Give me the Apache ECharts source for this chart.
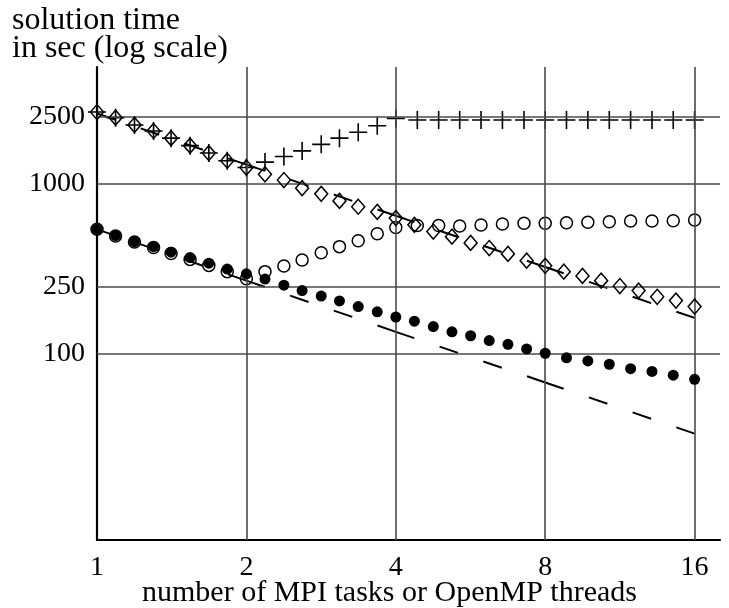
<!DOCTYPE html>
<html>
<head>
<meta charset="utf-8">
<script src="https://cdn.jsdelivr.net/npm/echarts@6/dist/echarts.min.js"></script>
<style>
  html, body { margin: 0; padding: 0; background: #fff; }
  #chart { width: 729px; height: 608px; }
</style>
</head>
<body>
<div id="chart"></div>
<script>
// Process counts (1 .. 16) at which the runs were timed
const xFine = [1, 1.09, 1.19, 1.3, 1.41, 1.54, 1.68, 1.83, 2, 2.18, 2.38, 2.59, 2.83, 3.08, 3.36, 3.67,
               4, 4.36, 4.76, 5.19, 5.66, 6.17, 6.73, 7.34, 8, 8.72, 9.51, 10.37, 11.31, 12.34, 13.45, 14.67, 16];
const xCoarse = [4.42, 4.88, 5.38, 5.94, 6.56, 7.25, 8, 8.83, 9.75, 10.77, 11.89, 13.13, 14.49, 16];

// Solution times in seconds
const diamondTime = [2650, 2455, 2225, 2050, 1860, 1680, 1520, 1370, 1250, 1140, 1055, 945, 875, 795, 735, 685,
                     630, 575, 525, 490, 450, 420, 388, 354, 330, 305, 288, 270, 251, 236, 217, 206, 190];
const crossTime = [2650, 2455, 2225, 2050, 1860, 1680, 1520, 1370, 1250, 1345, 1450, 1565, 1710, 1860, 2015, 2200, 2430,
                   2380, 2380, 2380, 2380, 2380, 2380, 2380, 2380, 2380, 2380, 2380, 2380, 2380, 2380];
const openTime = [541, 494, 456, 423, 390, 360, 332, 305, 277, 305, 329, 357, 394, 428, 464, 510, 555,
                  570, 570, 566, 574, 582, 587, 587, 592, 595, 600, 606, 606, 608, 614];
const filledTime = [541, 497, 458, 428, 397, 369, 342, 316, 296, 276, 254, 236, 219, 205, 190, 177, 165,
                    156, 145, 135, 128, 120, 114, 107, 101, 95, 91, 87, 82, 79, 75, 71];

// Ideal (linear) speed-up references
const idealX = [1, 2, 4, 8, 16];
const idealA = [2600, 1300, 650, 325, 163];
const idealB = [541, 270, 135, 68, 34];

// Axis ticks
const xTicks = [1, 2, 4, 8, 16];
const yTicks = [100, 250, 1000, 2500];

const FONT = '"Liberation Serif", "Times New Roman", serif';

const crossX = xFine.slice(0, 17).concat(xCoarse);
const filledX = xFine.slice(0, 25).concat(xCoarse.slice(7));
const pairs = (xs, ys) => ys.map((y, i) => [xs[i], y]);

// each octave of the ideal line is dashed on its own
function idealSegments(ys) {
  const out = [];
  for (let i = 0; i < idealX.length - 1; i++) {
    out.push({
      type: 'line',
      data: [[idealX[i], ys[i]], [idealX[i + 1], ys[i + 1]]],
      symbol: 'none',
      silent: true,
      z: 3,
      lineStyle: { color: '#000', width: 2, type: [19.5, 26.7], cap: 'butt' }
    });
  }
  return out;
}

const hollow = { color: 'transparent', borderColor: '#000', borderWidth: 1.5, opacity: 1 };

const chart = echarts.init(document.getElementById('chart'), null, { renderer: 'canvas' });
chart.setOption({
  animation: false,
  backgroundColor: '#fff',
  grid: { left: 97, right: 9, top: 67, bottom: 68 },
  xAxis: {
    type: 'log', logBase: 2, min: 1, max: 18,
    axisLine: { lineStyle: { color: '#000', width: 2.2 } },
    axisTick: { show: false },
    splitLine: { show: false },
    axisLabel: {
      customValues: xTicks,
      color: '#000', fontFamily: FONT, fontSize: 28, margin: 14,
      formatter: v => String(Math.round(v))
    }
  },
  yAxis: {
    type: 'log', logBase: 10, min: 8.05, max: 4876,
    axisLine: { lineStyle: { color: '#000', width: 2.2 } },
    axisTick: { show: false },
    splitLine: { show: false },
    axisLabel: {
      customValues: yTicks,
      color: '#000', fontFamily: FONT, fontSize: 28, margin: 12,
      formatter: v => String(Math.round(v))
    }
  },
  graphic: [
    {
      type: 'text', left: 12, top: 5,
      style: { text: 'solution time\nin sec (log scale)', font: '32px ' + FONT, fill: '#000', lineHeight: 28 }
    },
    {
      type: 'text', left: 142, top: 578,
      style: { text: 'number of MPI tasks or OpenMP threads', font: '30px ' + FONT, fill: '#000' }
    }
  ],
  series: [
    {
      type: 'line', data: [], silent: true, z: 1,
      markLine: {
        silent: true, symbol: 'none', label: { show: false },
        lineStyle: { color: '#4a4a4a', width: 1.6, type: 'solid' },
        data: yTicks.map(v => ({ yAxis: v })).concat(xTicks.slice(1).map(v => ({ xAxis: v })))
      }
    },
    ...idealSegments(idealA),
    ...idealSegments(idealB),
    {
      type: 'scatter', data: pairs(crossX, crossTime), z: 4,
      symbol: 'path://M0,-9L0,9M-9,0L9,0', symbolSize: 18,
      itemStyle: { color: 'transparent', borderColor: '#000', borderWidth: 1.6, opacity: 1 }
    },
    {
      type: 'scatter', data: pairs(crossX, openTime), z: 4,
      symbol: 'circle', symbolSize: 12, itemStyle: hollow
    },
    {
      type: 'scatter', data: pairs(xFine, diamondTime), z: 5,
      symbol: 'diamond', symbolSize: [13, 15], itemStyle: hollow
    },
    {
      type: 'scatter', data: pairs(filledX, filledTime), z: 6,
      symbol: 'circle', symbolSize: 11, itemStyle: { color: '#000', opacity: 1 }
    }
  ]
});
</script>
</body>
</html>
